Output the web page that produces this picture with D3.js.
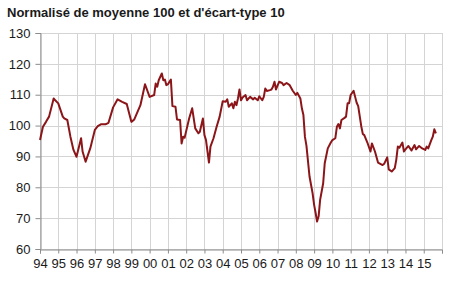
<!DOCTYPE html>
<html>
<head>
<meta charset="utf-8">
<script src="https://cdn.jsdelivr.net/npm/d3@7"></script>
<style>
  body { margin: 0; background: #fff; }
  text { font-family: "Liberation Sans", Arial, sans-serif; fill: #1a1a1a; }
</style>
</head>
<body>
<div id="vis"></div>
<script>
// size of the picture
var width = 450;
var height = 291;

// chart values (monthly points)
var months = [
  "1994-01","1994-03","1994-05","1994-07","1994-10","1994-11","1995-01","1995-04","1995-05","1995-07",
  "1995-09","1995-11","1996-01","1996-04","1996-05","1996-07","1996-10","1997-01","1997-03","1997-05",
  "1997-08","1997-10","1998-01","1998-04","1998-07","1998-10","1999-01","1999-03","1999-07","1999-10",
  "2000-01","2000-04","2000-05","2000-06","2000-07","2000-09","2000-10","2000-11","2000-12","2001-01",
  "2001-03","2001-04","2001-06","2001-07","2001-09","2001-10","2001-11","2001-12","2002-03","2002-05",
  "2002-07","2002-09","2002-10","2002-12","2003-01","2003-02","2003-04","2003-05","2003-07","2003-09",
  "2003-11","2004-01","2004-03","2004-04","2004-05","2004-07","2004-08","2004-09","2004-10","2004-11",
  "2004-12","2005-01","2005-02","2005-04","2005-05","2005-07","2005-09","2005-10","2005-12","2006-01",
  "2006-03","2006-04","2006-05","2006-06","2006-08","2006-09","2006-10","2006-11","2006-12","2007-02",
  "2007-04","2007-05","2007-07","2007-09","2007-11","2008-01","2008-02","2008-04","2008-05","2008-06",
  "2008-07","2008-08","2008-10","2008-12","2009-01","2009-02","2009-03","2009-04","2009-05","2009-07",
  "2009-08","2009-10","2009-12","2010-01","2010-03","2010-04","2010-05","2010-06","2010-07","2010-09",
  "2010-10","2010-11","2010-12","2011-01","2011-03","2011-04","2011-05","2011-06","2011-08","2011-09",
  "2011-10","2011-12","2012-02","2012-03","2012-05","2012-07","2012-10","2012-11","2013-01","2013-02",
  "2013-04","2013-06","2013-07","2013-08","2013-09","2013-11","2013-12","2014-01","2014-03","2014-05",
  "2014-07","2014-08","2014-10","2014-12","2015-02","2015-03","2015-04","2015-06","2015-07","2015-08",
  "2015-09"
];
var values = [
  95.3, 99.6, 101.2, 102.9, 108.8, 108.2, 107.2, 102.9, 102.3, 101.8,
  96.4, 92.1, 89.9, 95.9, 91.6, 88.3, 92.6, 98.6, 99.8, 100.4,
  100.4, 100.9, 105.9, 108.5, 107.7, 107.0, 101.2, 102.0, 106.6, 113.4,
  109.3, 109.9, 113.6, 112.6, 114.7, 116.9, 114.7, 114.9, 113.1, 113.4,
  114.9, 106.3, 106.1, 102.0, 101.8, 94.2, 96.4, 96.1, 102.3, 105.6,
  99.1, 97.5, 98.0, 102.3, 96.9, 95.3, 88.0, 93.2, 95.9, 99.6,
  102.9, 107.9, 107.7, 108.5, 106.1, 107.2, 105.6, 107.7, 106.6, 108.8,
  111.7, 108.2, 109.1, 109.9, 108.2, 109.3, 108.5, 109.0, 108.2, 109.5,
  108.2, 109.3, 112.0, 111.2, 111.5, 111.7, 112.6, 114.2, 111.7, 114.2,
  113.8, 113.1, 113.8, 113.1, 111.3, 109.9, 110.6, 108.8, 105.6, 103.4,
  96.4, 93.4, 83.5, 78.1, 74.3, 71.6, 68.9, 70.6, 75.9, 81.3,
  87.8, 92.6, 94.5, 95.3, 95.9, 99.6, 100.5, 99.1, 101.8, 102.5,
  102.9, 107.2, 107.2, 109.9, 111.3, 109.3, 107.4, 106.3, 99.8, 97.3,
  96.9, 94.5, 91.6, 94.2, 91.6, 88.0, 87.2, 87.6, 89.7, 85.8,
  85.1, 86.2, 88.9, 93.2, 92.8, 94.5, 91.6, 92.3, 93.4, 91.9,
  93.7, 92.3, 93.4, 92.6, 92.1, 93.2, 92.6, 95.3, 96.4, 98.8,
  97.5
];
var yTicks = [60, 70, 80, 90, 100, 110, 120, 130];
var title = "Normalisé de moyenne 100 et d'écart-type 10";

var margin = {top: 33, right: 8, bottom: 42, left: 40};

var parseMonth = d3.timeParse("%Y-%m");
var data = months.map(function(m, i) {
  return {date: parseMonth(m), value: values[i]};
});

var svg = d3.select("#vis").append("svg")
  .attr("width", width)
  .attr("height", height);

var x = d3.scaleTime()
  .domain([new Date(1994, 0, 1), new Date(2016, 0, 1)])
  .range([margin.left, width - margin.right]);

var y = d3.scaleLinear()
  .domain([60, 130])
  .range([height - margin.bottom, margin.top]);

var years = d3.timeYear.range(new Date(1994, 0, 1), new Date(2016, 0, 2));

// grid lines
svg.append("g")
  .selectAll("line.vgrid")
  .data(years)
  .enter().append("line")
  .attr("x1", d => Math.round(x(d)) + 0.5)
  .attr("x2", d => Math.round(x(d)) + 0.5)
  .attr("y1", y(130))
  .attr("y2", y(60))
  .attr("stroke", "#d4d4d4")
  .attr("stroke-width", 1);

svg.append("g")
  .selectAll("line.hgrid")
  .data(yTicks)
  .enter().append("line")
  .attr("x1", x.range()[0])
  .attr("x2", x.range()[1])
  .attr("y1", d => Math.round(y(d)) + 0.5)
  .attr("y2", d => Math.round(y(d)) + 0.5)
  .attr("stroke", "#d4d4d4")
  .attr("stroke-width", 1);

// y axis
var yAxis = svg.append("g")
  .attr("transform", "translate(" + (margin.left + 0.5) + ",0)")
  .call(d3.axisLeft(y).tickValues(yTicks).tickSize(5).tickPadding(5));

// x axis
var xAxis = svg.append("g")
  .attr("transform", "translate(0," + (Math.round(y(60)) + 0.5) + ")")
  .call(d3.axisBottom(x).tickValues(years).tickSize(4).tickPadding(5)
    .tickFormat(function(d) { return d.getFullYear() < 2016 ? d3.timeFormat("%y")(d) : ""; }));

[yAxis, xAxis].forEach(function(a) {
  a.select(".domain").attr("stroke", "#8c8c8c");
  a.selectAll(".tick line").attr("stroke", "#8c8c8c");
  a.selectAll(".tick text")
    .style("font-size", "13px")
    .style("font-family", "'Liberation Sans', Arial, sans-serif")
    .attr("fill", "#1a1a1a");
});

// the series
var line = d3.line()
  .x(d => x(d.date))
  .y(d => y(d.value));

svg.append("path")
  .datum(data)
  .attr("d", line)
  .attr("fill", "none")
  .attr("stroke", "#8b1518")
  .attr("stroke-width", 2)
  .attr("stroke-linejoin", "round");

// title
svg.append("text")
  .attr("x", 7)
  .attr("y", 17)
  .style("font-size", "13px")
  .style("font-weight", "bold")
  .text(title);
</script>
</body>
</html>
